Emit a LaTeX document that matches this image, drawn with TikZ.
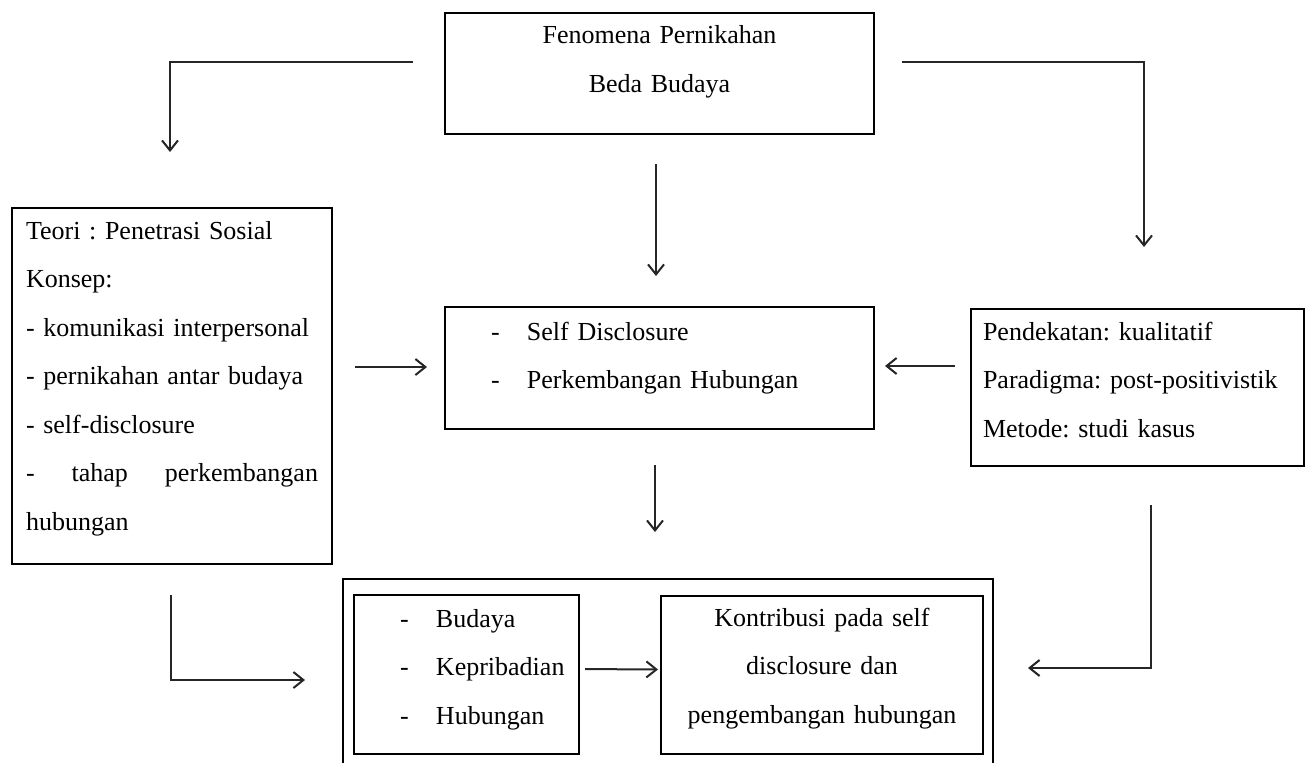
\documentclass[tikz,border=0pt]{standalone}
\usepackage{fontspec}
\setmainfont{Liberation Serif}
\usetikzlibrary{positioning,arrows.meta}
\frenchspacing
\newcommand{\itm}[1]{\hspace*{23pt}\makebox[18pt][l]{-}#1}

\begin{document}
\begin{tikzpicture}[x=0.5pt,y=-0.5pt,
	box node/.style={draw, line width=1pt, inner xsep=0pt, inner ysep=0pt, anchor=north west, font=\fontsize{13}{24.25}\selectfont},
	frame node/.style={draw, line width=1pt, inner sep=0pt, anchor=north west},
	arr/.style={-{Straight Barb[length=5pt,width=8pt]}, line width=1pt, black!85}]
	\useasboundingbox (0,0) rectangle (1309,762);

	\node[box node, text width=214.5pt, align=center, text height=15.25pt, text depth=45.25pt](F) at (444,12){Fenomena Pernikahan\\Beda Budaya};
	\node[box node, text width=146pt, inner xsep=7pt, align=left, text height=15.5pt, text depth=162.5pt](T) at (11,207){Teori : Penetrasi Sosial\\Konsep:\\- komunikasi interpersonal\\- pernikahan antar budaya\\- self-disclosure\\\makebox[\linewidth][l]{-\hfill tahap\hfill perkembangan}\\hubungan};
	\node[box node, text width=214.5pt, align=left, text height=16.5pt, text depth=44.5pt](SD) at (444,306){\itm{Self Disclosure}\\\itm{Perkembangan Hubungan}};
	\node[box node, text width=154.5pt, inner xsep=6pt, align=left, text height=15.5pt, text depth=63pt](P) at (970,308){Pendekatan: kualitatif\\Paradigma: post-positivistik\\Metode: studi kasus};

	\node[frame node, minimum width=325pt, minimum height=92.5pt](K) at (342,578){};
		\node[box node, text width=112.5pt, align=left, text height=16pt, text depth=63.5pt](B1) at (353,594){\itm{Budaya}\\\itm{Kepribadian}\\\itm{Hubungan}};
		\node[box node, text width=161pt, align=center, text height=15pt, text depth=64pt](B2) at (660,595){Kontribusi pada self\\disclosure dan\\pengembangan hubungan};

	\coordinate (FL1) at (413,62);
	\coordinate (FL2) at (170,152);
	\coordinate (FR1) at (902,62);
	\coordinate (FR2) at (1144,247);
	\coordinate (FM1) at (656,164);
	\coordinate (FM2) at (656,276);
	\coordinate (TM1) at (355,367);
	\coordinate (TM2) at (427,367);
	\coordinate (PM1) at (955,366);
	\coordinate (PM2) at (885,366);
	\coordinate (SD1) at (655,465);
	\coordinate (SD2) at (655,532);
	\coordinate (TB1) at (171,595);
	\coordinate (TB2) at (305,680);
	\coordinate (PB1) at (1151,505);
	\coordinate (PB2) at (1028,668);

	\draw[arr](FL1) -| (FL2);
	\draw[arr](FR1) -| (FR2);
	\draw[arr](FM1) -- (FM2);
	\draw[arr](TM1) -- (TM2);
	\draw[arr](PM1) -- (PM2);
	\draw[arr](SD1) -- (SD2);
	\draw[arr](TB1) |- (TB2);
	\draw[arr](PB1) |- (PB2);
	\draw[arr, shorten <=2.5pt, shorten >=1pt]([yshift=2.75pt]B1.east) -- ([yshift=2.75pt]B2.west);
\end{tikzpicture}
\end{document}
